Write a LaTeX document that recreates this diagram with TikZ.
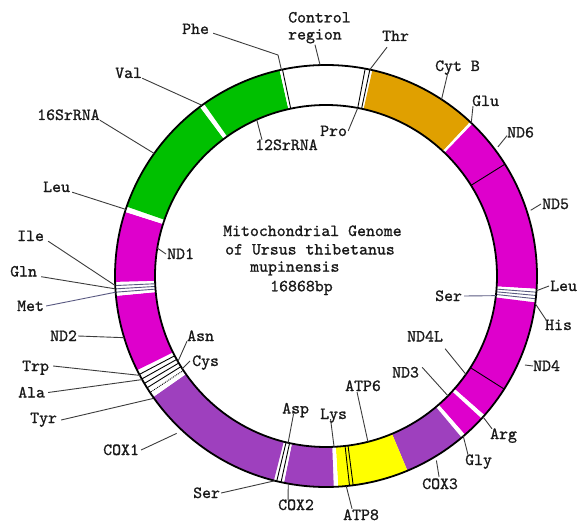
\documentclass[tikz,border=0pt]{standalone}
\usepackage{fontspec}
\setmonofont{lmmono10-regular.otf}[FakeBold=1]
\usetikzlibrary{calc}
\definecolor{cgreen}{RGB}{0,192,0}
\definecolor{corange}{RGB}{224,160,0}
\definecolor{cmag}{RGB}{222,0,204}
\definecolor{cpurp}{RGB}{158,64,190}
\definecolor{cyel}{RGB}{255,255,0}
\definecolor{clead}{RGB}{60,60,60}
\definecolor{cblue}{RGB}{90,90,130}
\newcommand\ringseg[3]{\fill[#3] (#1:171) arc[start angle=#1, end angle=#2, radius=171] -- (#2:211) arc[start angle=#2, end angle=#1, radius=211] -- cycle;}
\newcommand\radl[2][]{\draw[sep,#1] (#2:171) -- (#2:211);}
\begin{document}
\begin{tikzpicture}[x=1pt,y=-1pt,
 lab/.style={font=\fontsize{17}{20}\selectfont\ttfamily, inner sep=0pt, text height=10pt, text depth=0pt, anchor=west, text=black!90},
 lead/.style={draw=clead, line width=0.9pt},
 sep/.style={draw=black, line width=0.9pt},
 rim/.style={draw=black, line width=1.8pt}]
\useasboundingbox (0,0) rectangle (581,524);
\fill[white] (0,0) rectangle (581,524);

\begin{scope}[shift={(326,276)}, y=1pt]
 \ringseg{80.3}{101.5}{white}
 \ringseg{77.3}{80.3}{white}
 \ringseg{46.9}{77.3}{corange}
 \ringseg{46.1}{46.9}{white}
 \ringseg{-3.5}{46.1}{cmag}
 \ringseg{-7.2}{-3.5}{white}
 \ringseg{-41.3}{-7.2}{cmag}
 \ringseg{-42.5}{-41.3}{white}
 \ringseg{-48.8}{-42.5}{cmag}
 \ringseg{-50}{-48.8}{white}
 \ringseg{-67.3}{-50}{cpurp}
 \ringseg{-86.7}{-67.3}{cyel}
 \ringseg{-87.9}{-86.7}{white}
 \ringseg{-101.5}{-87.9}{cpurp}
 \ringseg{-104.3}{-101.5}{white}
 \ringseg{-145}{-104.3}{cpurp}
 \ringseg{-153.5}{-145}{white}
 \ringseg{-174.6}{-153.5}{cmag}
 \ringseg{-178.4}{-174.6}{white}
 \ringseg{162.3}{181.6}{cmag}
 \ringseg{160.8}{162.3}{white}
 \ringseg{126.7}{160.8}{cgreen}
 \ringseg{125.3}{126.7}{white}
 \ringseg{102.7}{125.3}{cgreen}
 \ringseg{101.5}{102.7}{white}
 % separators
 \radl{32}
 \radl{-32.4}
 \radl{78}
 \radl{79.3}
 \radl{101.9}
 \radl[draw=cblue]{-177.4}
 \radl[draw=cblue]{-176.5}
 \radl[draw=cblue]{-175.6}
 \radl[draw=cblue]{-4.4}
 \radl[draw=cblue]{-5.3}
 \radl[draw=cblue]{-6.2}
 \radl{-152.2}
 \radl{-150.8}
 \radl{-149.4}
 \radl{-148}
 \radl[densely dotted]{-146.5}
 \radl{-102.3}
 \radl{-103.5}
 \radl{-82.6}
 \radl{-83.6}
 \draw[rim] (0,0) circle[radius=211];
 \draw[rim] (0,0) circle[radius=171];
 % ring anchor points
 \coordinate (crO) at (91.6:211);
 \coordinate (pheO) at (102.2:211);
 \coordinate (valO) at (126:211);
 \coordinate (s16O) at (144.5:211);
 \coordinate (s12I) at (113.9:171);
 \coordinate (leuLO) at (161.6:211);
 \coordinate (nd1I) at (170.6:171);
 \coordinate (ileO) at (182.6:211);
 \coordinate (glnO) at (183.5:211);
 \coordinate (metO) at (184.4:211);
 \coordinate (nd2O) at (197:211);
 \coordinate (trpO) at (208.1:211);
 \coordinate (alaO) at (209.4:211);
 \coordinate (tyrO) at (215.3:212);
 \coordinate (asnI) at (210:171);
 \coordinate (cysI) at (212.8:171);
 \coordinate (cox1O) at (226.5:217);
 \coordinate (ser2O) at (-104:211);
 \coordinate (aspI) at (-102.8:171);
 \coordinate (cox2O) at (-100.3:211);
 \coordinate (lysI) at (-87.3:171);
 \coordinate (atp8O) at (-84.5:211);
 \coordinate (atp6I) at (-75.8:171);
 \coordinate (cox3O) at (-59.1:215);
 \coordinate (glyO) at (-49.4:211);
 \coordinate (argO) at (-41.9:211);
 \coordinate (nd3I) at (-44.5:171);
 \coordinate (nd4lI) at (-35.1:171);
 \coordinate (nd4O) at (-24.1:218);
 \coordinate (hisO) at (-7.5:211);
 \coordinate (leuRO) at (-4:211);
 \coordinate (serRI) at (-6.6:171);
 \coordinate (nd5O) at (17.8:215);
 \coordinate (nd6O) at (36.9:215);
 \coordinate (gluO) at (46.5:211);
 \coordinate (cytbO) at (56.8:211);
 \coordinate (thrO) at (78:211);
 \coordinate (proI) at (79.3:171);
\end{scope}

% labels
\node[lab] (control) at (288,17.5) {Control};
\node[lab] (region) at (288,34.5) {region};
\node[lab] (phe) at (182,29) {Phe};
\node[lab] (val) at (115,73) {Val};
\node[lab] (s16) at (37,115) {16SrRNA};
\node[lab] (s12) at (255,145) {12SrRNA};
\node[lab] (leuL) at (43,187) {Leu};
\node[lab] (nd1) at (167,254) {ND1};
\node[lab] (ile) at (17,236) {Ile};
\node[lab] (gln) at (10,271.5) {Gln};
\node[lab] (met) at (17,306) {Met};
\node[lab] (nd2) at (50,336) {ND2};
\node[lab] (asn) at (187,336) {Asn};
\node[lab] (cys) at (192,361) {Cys};
\node[lab] (trp) at (22,366) {Trp};
\node[lab] (ala) at (18,392.5) {Ala};
\node[lab] (tyr) at (30,418) {Tyr};
\node[lab] (cox1) at (103,450) {COX1};
\node[lab] (ser2) at (193,493) {Ser};
\node[lab] (cox2) at (278,505) {COX2};
\node[lab] (asp) at (282,408.5) {Asp};
\node[lab] (lys) at (320,414) {Lys};
\node[lab] (atp6) at (345,386) {ATP6};
\node[lab] (atp8) at (343,515) {ATP8};
\node[lab] (cox3) at (422,484) {COX3};
\node[lab] (gly) at (465,460) {Gly};
\node[lab] (arg) at (490,434) {Arg};
\node[lab] (nd3) at (392,372.5) {ND3};
\node[lab] (nd4l) at (407,336.5) {ND4L};
\node[lab] (nd4) at (533,366) {ND4};
\node[lab] (his) at (545,325) {His};
\node[lab] (leuR) at (550,286) {Leu};
\node[lab] (serR) at (435,296) {Ser};
\node[lab] (nd5) at (542,204) {ND5};
\node[lab] (nd6) at (507,132.5) {ND6};
\node[lab] (glu) at (472,101) {Glu};
\node[lab] (cytb) at (435,66) {Cyt B};
\node[lab] (thr) at (382,36) {Thr};
\node[lab] (pro) at (320,131) {Pro};
% centre title
\node[lab] (t1) at (223,231) {Mitochondrial Genome};
\node[lab] (t2) at (225,249.5) {of Ursus thibetanus};
\node[lab] (t3) at (250,266.7) {mupinensis};
\node[lab] (t4) at (270,286.3) {16868bp};

% leader lines
\coordinate (pheK) at (278,55);
\draw[lead] ([yshift=-5pt]region.south) -- (crO);
\draw[lead] ([xshift=4pt,yshift=1pt]phe.south east) -- (pheK) -- (pheO);
\draw[lead] (val.south east) -- (valO);
\draw[lead] (s16.south east) -- (s16O);
\draw[lead] ([xshift=7pt]s12.north west) -- (s12I);
\draw[lead] ([xshift=2pt]leuL.south east) -- (leuLO);
\draw[lead] ([xshift=-1pt]nd1.west) -- (nd1I);
\draw[lead] ([xshift=4pt]ile.south east) -- (ileO);
\draw[lead] ([xshift=4pt]gln.south east) -- (glnO);
\draw[lead,draw=cblue] ([xshift=2pt]met.east) -- (metO);
\draw[lead] ([xshift=1pt]nd2.east) -- (nd2O);
\draw[lead] ([xshift=4pt]trp.east) -- (trpO);
\draw[lead] ([xshift=3pt]ala.east) -- (alaO);
\draw[lead] ([xshift=4pt,yshift=-2pt]tyr.east) -- (tyrO);
\draw[lead] (asn.south west) -- (asnI);
\draw[lead] ([xshift=-2pt]cys.west) -- (cysI);
\draw[lead] ([xshift=2pt]cox1.east) -- (cox1O);
\draw[lead] ([xshift=1pt]ser2.east) -- (ser2O);
\draw[lead] ([xshift=-2pt]asp.south) -- (aspI);
\draw[lead] ([xshift=-8pt]cox2.north) -- (cox2O);
\draw[lead] ([xshift=-3pt]lys.south) -- (lysI);
\draw[lead] ([xshift=-9pt,yshift=1pt]atp8.north) -- (atp8O);
\draw[lead] ([xshift=-6pt,yshift=-1pt]atp6.south) -- (atp6I);
\draw[lead] ([xshift=-1pt,yshift=2pt]cox3.north) -- (cox3O);
\draw[lead] ([xshift=3pt]gly.north west) -- (glyO);
\draw[lead] ([xshift=2pt]arg.north west) -- (argO);
\draw[lead] ([xshift=3pt]nd3.north east) -- (nd3I);
\draw[lead] ([xshift=2pt,yshift=-7pt]nd4l.south east) -- (nd4lI);
\draw[lead] (nd4O) -- (nd4.west);
\draw[lead] (hisO) -- ([xshift=1pt]his.north west);
\draw[lead] (leuRO) -- ([xshift=-1pt]leuR.west);
\draw[lead,draw=cblue] ([xshift=2pt]serR.east) -- (serRI);
\draw[lead] (nd5O) -- ([xshift=-1pt]nd5.west);
\draw[lead] (nd6O) -- ([yshift=2pt]nd6.south west);
\draw[lead] (gluO) -- ([xshift=1pt]glu.south west);
\draw[lead] (cytbO) -- ([xshift=13pt,yshift=-1pt]cytb.south west);
\draw[lead] (thrO) -- ([xshift=5pt,yshift=-6pt]thr.south west);
\draw[lead] ([xshift=1pt]pro.east) -- (proI);
\end{tikzpicture}
\end{document}
